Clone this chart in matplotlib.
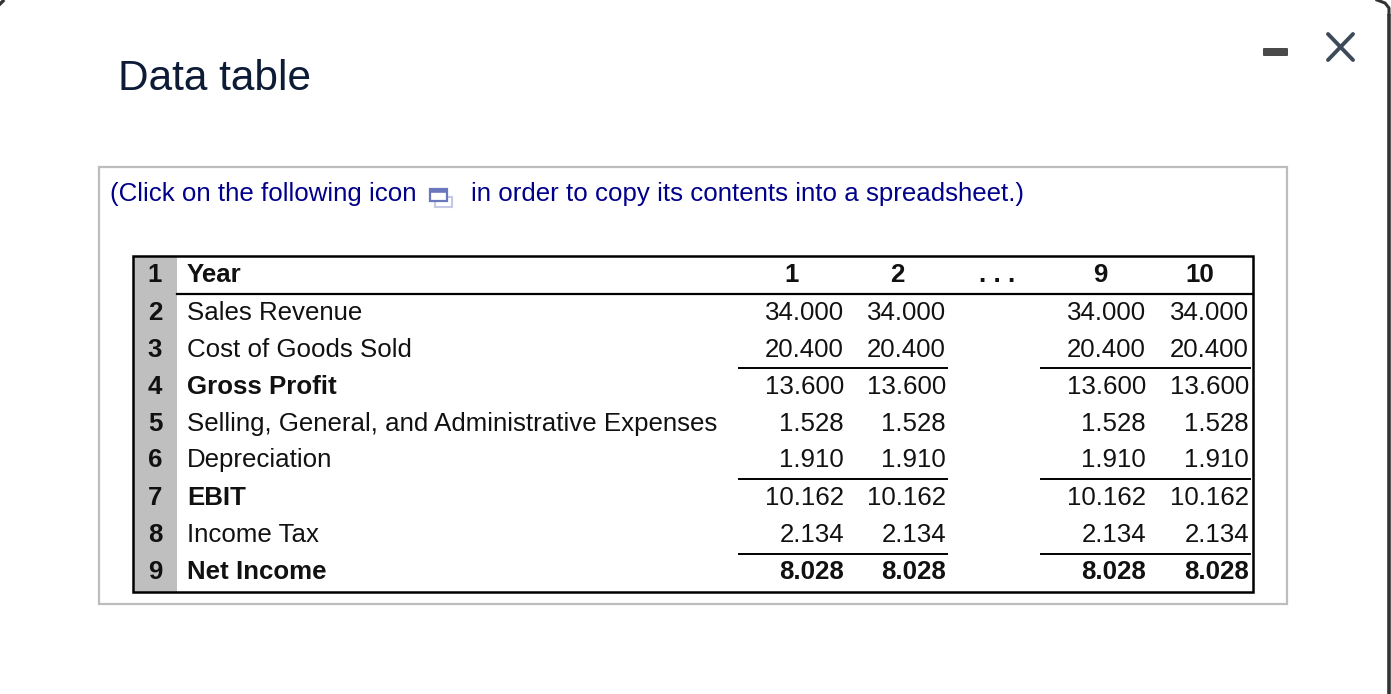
"""
Data table dialog, drawn in pixel coordinates of the original screenshot.
"""

import matplotlib
matplotlib.use('Agg')
import matplotlib.pyplot as plt
from matplotlib.patches import Rectangle, FancyBboxPatch

plt.rcParams['font.family'] = ['Liberation Sans', 'DejaVu Sans']

W, H = 1391, 694

row_numbers = ['1', '2', '3', '4', '5', '6', '7', '8', '9']
row_labels = ['Year', 'Sales Revenue', 'Cost of Goods Sold', 'Gross Profit',
              'Selling, General, and Administrative Expenses', 'Depreciation',
              'EBIT', 'Income Tax', 'Net Income']
bold_rows = ['Year', 'Gross Profit', 'EBIT', 'Net Income']
header_labels = ['1', '2', '. . .', '9', '10']
year_1 = ['34.000', '20.400', '13.600', '1.528', '1.910', '10.162', '2.134', '8.028']
year_2 = ['34.000', '20.400', '13.600', '1.528', '1.910', '10.162', '2.134', '8.028']
year_9 = ['34.000', '20.400', '13.600', '1.528', '1.910', '10.162', '2.134', '8.028']
year_10 = ['34.000', '20.400', '13.600', '1.528', '1.910', '10.162', '2.134', '8.028']

row_y = [275, 313, 350, 387, 424, 460, 498, 535, 572]
col_right = [844, 946, 1146, 1249]
header_x = [792, 897, 997, 1100, 1200]
rule_y = [368, 479, 554]

NAVY = '#00008b'
FS = 18.6

fig = plt.figure(figsize=(W / 100, H / 100), dpi=100, facecolor='white')
ax = fig.add_axes([0, 0, 1, 1])
ax.set_xlim(0, W)
ax.set_ylim(H, 0)
ax.axis('off')

# window edge and corners
ax.plot([1389, 1389], [14, H], color='#333333', lw=2.6, solid_capstyle='butt')
ax.plot([1377, 1385, 1389, 1389], [0, 3, 8, 14], color='#333333', lw=2.2)
ax.plot([0, 3], [4, 1], color='#333333', lw=2.4)

ax.text(118, 79, 'Data table', fontsize=30.5, color='#0d1b36', va='center', ha='left')

# minimise / close
ax.add_patch(FancyBboxPatch((1263, 48), 25, 8, boxstyle='round,pad=0,rounding_size=1',
                            fc='#4a4a4a', ec='none'))
ax.plot([1328, 1353], [34, 60], color='#3c4a5a', lw=2.8, solid_capstyle='round')
ax.plot([1353, 1328], [34, 60], color='#3c4a5a', lw=2.8, solid_capstyle='round')

# outer box
ax.add_patch(Rectangle((99, 167), 1188, 437, fc='white', ec='#bdbdbd', lw=1.6))

ax.text(110, 194, '(Click on the following icon', fontsize=FS, color=NAVY, va='center', ha='left')
ax.text(471, 194, 'in order to copy its contents into a spreadsheet.)', fontsize=FS,
        color=NAVY, va='center', ha='left')

# copy icon
ax.add_patch(Rectangle((435, 197), 17, 10, fc='white', ec='#c3c9e6', lw=1.5))
ax.add_patch(Rectangle((430, 189), 17, 12, fc='white', ec='#6a77bd', lw=1.6))
ax.plot([430, 447], [190.5, 190.5], color='#6a77bd', lw=2.6, solid_capstyle='butt')

# table
ax.add_patch(Rectangle((133, 256), 44, 336, fc='#bfbfbf', ec='none'))
ax.plot([177, 1253], [294, 294], color='black', lw=1.6)
for y in rule_y:
    ax.plot([739, 947], [y, y], color='black', lw=1.4)
    ax.plot([1041, 1250], [y, y], color='black', lw=1.4)
ax.add_patch(Rectangle((133, 256), 1120, 336, fc='none', ec='black', lw=1.8, zorder=5))

for y, num, label in zip(row_y, row_numbers, row_labels):
    ax.text(155, y, num, fontsize=FS, fontweight='bold', color='#111111', va='center', ha='center')
    weight = 'bold' if label in bold_rows else 'normal'
    ax.text(187, y, label, fontsize=FS, fontweight=weight, color='#111111', va='center', ha='left')

for x, head in zip(header_x, header_labels):
    ax.text(x, row_y[0], head, fontsize=FS, fontweight='bold', color='#111111', va='center', ha='center')

for x, col in zip(col_right, [year_1, year_2, year_9, year_10]):
    for i, (y, val) in enumerate(zip(row_y[1:], col)):
        weight = 'bold' if i == len(col) - 1 else 'normal'
        ax.text(x, y, val, fontsize=FS, fontweight=weight, color='#111111', va='center', ha='right')

fig.savefig('out.png', dpi=100)
plt.close(fig)
